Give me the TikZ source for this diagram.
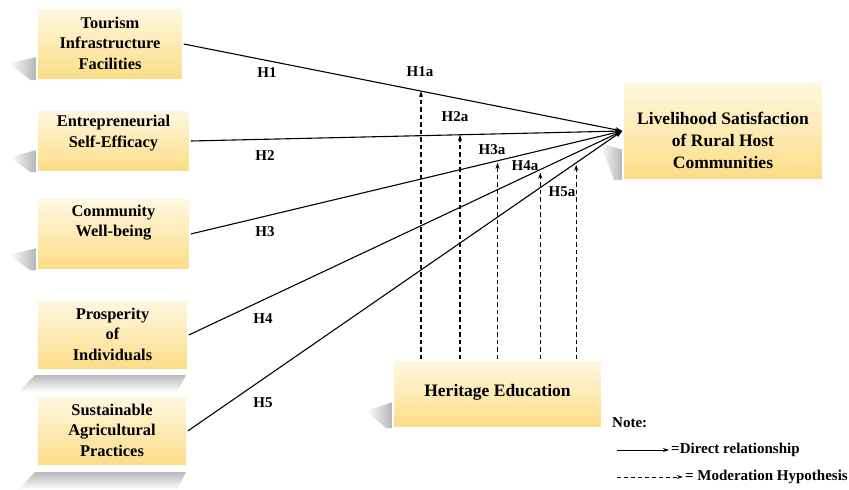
\documentclass[tikz,border=0pt]{standalone}
\usepackage{fontspec}
\setmainfont{Liberation Serif}
\usetikzlibrary{arrows.meta,calc,fadings}
\definecolor{boxtop}{HTML}{FFF8E2}
\definecolor{boxbot}{HTML}{FCDC84}
\begin{document}
\begin{tikzpicture}[x=1pt,y=-1pt,
  box/.style={draw=white, line width=1.5pt, top color=boxtop, bottom color=boxbot, inner sep=0pt},
  btxt/.style={font=\bfseries\fontsize{16.4}{20.5}\selectfont, align=center, inner sep=0pt},
  bigtxt/.style={font=\bfseries\fontsize{17.5}{22}\selectfont, align=center, inner sep=0pt},
  hlab/.style={font=\bfseries\fontsize{15}{18}\selectfont, inner sep=0pt},
  legtxt/.style={font=\bfseries\fontsize{15}{18}\selectfont, inner sep=0pt},
  sideshadow/.style={fill=gray!60, path fading=west},
  downshadow/.style={fill=gray!55, path fading=south},
  direct/.style={line width=1.1pt, -{Stealth[length=7pt,width=5pt]}},
  modr/.style={line width=1.1pt, dash pattern=on 4.5pt off 3pt, -{Stealth[length=6pt,width=4pt]}}
]
\useasboundingbox (0,0) rectangle (849,490);

% shadows
\fill[sideshadow] (37,57) -- (9,63) -- (30,80) -- (37,80) -- cycle;
\fill[sideshadow] (37,150) -- (10,157) -- (30,172) -- (37,172) -- cycle;
\fill[sideshadow] (37,248) -- (9,255) -- (30,270) -- (37,270) -- cycle;
\fill[downshadow] (35,375) -- (186,375) -- (177,392) -- (18,392) -- cycle;
\fill[downshadow] (35,472) -- (186,472) -- (177,490) -- (18,490) -- cycle;
\fill[sideshadow] (393,402) -- (366,411) -- (386,428) -- (393,428) -- cycle;
\fill[sideshadow] (623,150) -- (600,143) -- (614,180) -- (623,180) -- cycle;

% boxes
\node[box, minimum width=146pt, minimum height=72pt] (b1) at (110,44) {};
\node[box, minimum width=153pt, minimum height=62pt] (b2) at (113.5,141) {};
\node[box, minimum width=153pt, minimum height=72pt] (b3) at (113.5,234) {};
\node[box, minimum width=151pt, minimum height=70pt] (b4) at (112.5,335) {};
\node[box, minimum width=150pt, minimum height=70pt] (b5) at (112,431) {};
\node[box, minimum width=200pt, minimum height=98pt] (ls) at (723,131) {};
\node[box, minimum width=209pt, minimum height=68pt] (he) at (497.5,394) {};

% box texts
\node[btxt] (t1) at (110,43) {Tourism\\Infrastructure\\Facilities};
\node[btxt] (t2) at (113.5,133) {Entrepreneurial\\Self-Efficacy};
\node[btxt] (t3) at (113.5,222.5) {Community\\Well-being};
\node[btxt] (t4) at (112.5,334) {Prosperity\\of\\Individuals};
\node[btxt] (t5) at (112,430) {Sustainable\\Agricultural\\Practices};
\node[bigtxt] (tls) at (723,140) {Livelihood Satisfaction\\of Rural Host\\Communities};
\node[bigtxt] (the) at (497.5,392) {Heritage Education};

% direct paths
\draw[direct] (b1.east) -- (ls.west);
\draw[direct] (b2.east) -- (ls.west);
\draw[direct] (b3.east) -- (ls.west);
\draw[direct] (b4.east) -- (ls.west);
\draw[direct] (b5.east) -- (ls.west);

% moderation paths
\coordinate (m1) at ($(b1.east)!0.541!(ls.west)$);
\coordinate (m2) at ($(b2.east)!0.624!(ls.west)$);
\coordinate (m3) at ($(b3.east)!0.711!(ls.west)$);
\coordinate (m4) at ($(b4.east)!0.811!(ls.west)$);
\coordinate (m5) at ($(b5.east)!0.894!(ls.west)$);
\draw[modr] (he.north -| m1) -- (m1);
\draw[modr] (he.north -| m2) -- (m2);
\draw[modr] (he.north -| m3) -- ([yshift=-2pt]m3);
\draw[modr] (he.north -| m4) -- ([yshift=-3pt]m4);
\draw[modr] (he.north -| m5) -- ([yshift=-2pt]m5);

% labels
\node[hlab] (h1) at (267,73) {H1};
\node[hlab] (h2) at (265,156) {H2};
\node[hlab] (h3) at (265,232) {H3};
\node[hlab] (h4) at (263,319) {H4};
\node[hlab] (h5) at (263,403) {H5};
\node[hlab] (h1a) at (420,72) {H1a};
\node[hlab] (h2a) at (455,117) {H2a};
\node[hlab] (h3a) at (492,150) {H3a};
\node[hlab] (h4a) at (525,166) {H4a};
\node[hlab] (h5a) at (562,192) {H5a};

% legend
\node[legtxt, anchor=west] (note) at (612,423) {Note:};
\node[legtxt, anchor=west] (ld) at (671,450) {=Direct relationship};
\node[legtxt, anchor=east] (lm) at (848,477) {= Moderation Hypothesis};
\coordinate (ds) at (617,450);
\coordinate (ms) at (617,477);
\draw[line width=1pt, -{Stealth[length=6pt,width=4pt]}] (ds) -- ([xshift=-2pt]ld.west);
\draw[line width=1pt, dash pattern=on 4pt off 3pt, -{Stealth[length=6pt,width=4pt]}] (ms) -- ([xshift=-2pt]lm.west);
\end{tikzpicture}
\end{document}
